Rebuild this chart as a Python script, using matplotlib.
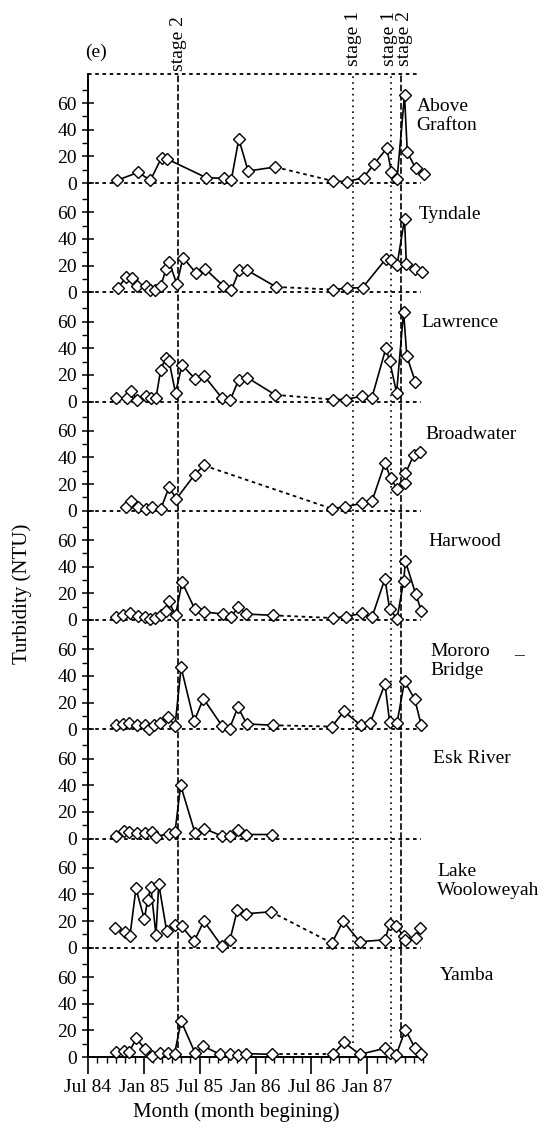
import matplotlib
matplotlib.use("Agg")
import matplotlib.pyplot as plt

plt.rcParams['font.family'] = ['Liberation Serif', 'DejaVu Serif']

# sampling month, counted in months after Jul 1984
grafton_m = [3.1, 5.4, 6.7, 7.9, 8.5, 12.7, 14.6, 15.4, 16.2, 17.2, 20.1,
             26.3, 27.8, 29.6, 30.7, 32.1, 32.6, 33.2, 34.0, 34.3, 35.2, 36.1]
grafton_v = [2, 8, 2, 19, 18, 4, 3.5, 2.5, 33, 9, 12,
             1.5, 1, 4, 14, 26, 8, 3, 66, 23, 11, 7]

tyndale_m = [3.2, 4.1, 4.75, 5.3, 6.2, 6.65, 7.2, 7.8, 8.4, 8.7, 9.55, 10.2, 11.6,
             12.6, 14.5, 15.4, 16.25, 17.1, 20.2,
             26.3, 27.8, 29.5, 32.0, 32.6, 33.2, 34.0, 34.2, 35.1, 35.9]
tyndale_v = [3, 11.5, 10.5, 5, 5, 1.5, 2, 4.5, 17.5, 23, 6, 26, 14.5,
             17.5, 5, 1.5, 16.5, 16.5, 4,
             2, 3, 3.5, 25, 24.5, 20.5, 55, 21, 17.5, 15.5]

lawrence_m = [3.0, 4.15, 4.6, 5.3, 6.2, 6.8, 7.3, 7.8, 8.35, 8.7, 9.4, 10.1, 11.5,
              12.5, 14.4, 15.3, 16.2, 17.1, 20.1,
              26.3, 27.7, 29.4, 30.5, 32.0, 32.4, 33.15, 33.9, 34.25, 35.15]
lawrence_v = [2.5, 2.5, 8, 1.5, 4.5, 2.5, 2.5, 23.5, 33, 30.5, 6.5, 27.5, 17,
              19, 2.5, 1.5, 16.5, 18, 5,
              1.5, 1.5, 4, 3, 40, 30.5, 6.5, 67.5, 34, 15]

broadwater_m = [4.1, 4.6, 5.35, 6.2, 6.9, 7.8, 8.7, 9.5, 11.45, 12.45,
                26.2, 27.6, 29.4, 30.5, 31.9, 32.5, 33.2, 34.0, 34.1, 35.0, 35.7]
broadwater_v = [3, 7, 3, 1, 2.5, 1, 17.5, 9, 27, 34,
                1.5, 3, 5.5, 7, 36, 24.5, 16.5, 21, 28, 42, 44]

harwood_m = [3.0, 3.8, 4.55, 5.35, 6.15, 6.7, 7.25, 7.85, 8.4, 8.65, 9.4, 10.1,
             11.45, 12.5, 14.5, 15.35, 16.15, 17.0, 19.85,
             26.3, 27.7, 29.4, 30.5, 31.9, 32.4, 33.2, 33.9, 34.1, 35.2, 35.8]
harwood_v = [2, 3.5, 5.5, 3, 2, 0.5, 1.5, 4, 6.5, 14.5, 3.5, 28.5,
             8.5, 6, 4.5, 2, 10, 4.5, 3.5,
             1.5, 2.5, 5, 2, 31, 8, 1, 29, 44, 19.5, 7]

mororo_m = [3.0, 3.75, 4.45, 5.25, 6.15, 6.6, 7.05, 7.75, 8.55, 9.35, 10.0, 11.4,
            12.4, 14.4, 15.2, 16.1, 17.05, 19.85,
            26.2, 27.5, 29.3, 30.3, 31.9, 32.4, 33.2, 34.0, 35.1, 35.8]
mororo_v = [3, 4, 5, 3, 3, 0.5, 3.5, 4.5, 9.5, 2.5, 46.5, 6,
            23, 2.5, 0.5, 16.5, 4, 3,
            2, 13.5, 3, 4.5, 34, 5.5, 5, 36, 22.5, 3]

esk_m = [3.0, 3.85, 4.45, 5.3, 6.15, 6.85, 7.3, 8.65, 9.35, 9.95, 11.5, 12.45,
         14.35, 15.25, 16.15, 17.0, 19.8]
esk_v = [2, 5.5, 5, 4, 4, 5, 1.5, 3.5, 5, 40, 4, 7.5, 2, 2, 6.5, 3, 3]

lake_m = [2.95, 3.95, 4.5, 5.15, 6.05, 6.4, 6.75, 7.3, 7.6, 8.45, 9.35, 10.05,
          11.4, 12.45, 14.35, 15.25, 16.05, 16.95, 19.65,
          26.2, 27.4, 29.2, 31.9, 32.4, 33.1, 33.9, 34.1, 35.2, 35.7]
lake_v = [14.5, 12, 8.5, 44.5, 21.5, 35.5, 45.5, 9.5, 48, 12.5, 17, 16,
          5, 20, 1.5, 6, 28.5, 25.5, 27,
          3.5, 20, 4.5, 6, 17.5, 16, 9, 5.5, 7, 15]

yamba_m = [3.0, 3.9, 4.4, 5.2, 6.1, 6.9, 7.7, 8.6, 9.3, 10.0, 11.5, 12.4,
           14.2, 15.2, 16.1, 17.0, 19.8,
           26.3, 27.5, 29.2, 31.9, 32.4, 33.1, 34.1, 35.1, 35.8]
yamba_v = [3.5, 4.5, 3.5, 14, 6, 1, 3, 3, 2.5, 27, 3, 8,
           2, 2, 1.5, 2.5, 2,
           2, 11, 2, 6.5, 3, 1.5, 20.5, 7, 2.5]

stations = ['Above\nGrafton', 'Tyndale', 'Lawrence', 'Broadwater', 'Harwood',
            'Mororo\nBridge', 'Esk River', 'Lake\nWooloweyah', 'Yamba']
months = [grafton_m, tyndale_m, lawrence_m, broadwater_m, harwood_m,
          mororo_m, esk_m, lake_m, yamba_m]
values = [grafton_v, tyndale_v, lawrence_v, broadwater_v, harwood_v,
          mororo_v, esk_v, lake_v, yamba_v]
# last sample before the unsampled stretch (joined by a dotted line)
gaps = [10, 18, 18, 9, 18, 17, None, 18, 16]

stage_pos = [9.7, 28.5, 32.6, 33.65]
stage_names = ['stage 2', 'stage 1', 'stage 1', 'stage 2']

tick_months = [0, 6, 12, 18, 24, 30]
tick_labels = ['Jul 84', 'Jan 85', 'Jul 85', 'Jan 86', 'Jul 86', 'Jan 87']

# label placement (x in months, y in NTU of the panel)
label_x = [35.3, 35.5, 35.8, 36.2, 36.6, 36.8, 37.1, 37.5, 37.8]
label_y = [50, 58.5, 59, 57.5, 59, 51, 60, 50, 61]

W, H = 544, 1131
fig = plt.figure(figsize=(W / 100, H / 100), dpi=100)
left, width = 88, 337
zero0, step = 183, 109.25

dotted = (0, (2, 2))
stage_style = {'stage 1': (0, (1, 2.5)), 'stage 2': (0, (4, 1.5))}
stage_bottom = [0.08, 0.13, 0.12, 0.17]

axes = []
for i in range(9):
    y0 = zero0 + step * i
    ax = fig.add_axes([left / W, 1 - y0 / H, width / W, step / H])
    axes.append(ax)
    ax.set_xlim(0, 36.2)
    ax.set_ylim(0, 82)
    ax.patch.set_visible(False)
    for s in ['top', 'right']:
        ax.spines[s].set_visible(False)
    ax.spines['left'].set_linewidth(1.4)
    last = i == 8
    ax.spines['bottom'].set_visible(last)
    ax.spines['bottom'].set_linewidth(1.4)

    ax.set_yticks([0, 20, 40, 60])
    ax.set_yticks([10, 30, 50, 70], minor=True)
    ax.tick_params(axis='y', which='major', direction='inout', length=8,
                   width=1.1, labelsize=14, pad=4)
    ax.tick_params(axis='y', which='minor', direction='out', length=4, width=1)

    if last:
        ax.set_xticks(tick_months)
        ax.set_xticklabels(tick_labels)
        ax.set_xticks(range(0, 37), minor=True)
        ax.tick_params(axis='x', which='major', direction='out', length=12,
                       width=1.2, labelsize=14, pad=4)
        ax.tick_params(axis='x', which='minor', direction='out', length=4, width=1)
    else:
        ax.tick_params(axis='x', which='both', bottom=False, labelbottom=False)
        ax.plot([0, 35.8], [0, 0], ls=dotted, color='k', lw=1.3, clip_on=False)

    # stage lines
    for k, (sx, sn) in enumerate(zip(stage_pos, stage_names)):
        ymin = stage_bottom[k] if last else 0
        ax.axvline(sx, ymin=ymin, ymax=1, ls=stage_style[sn], color='k',
                   lw=1.2, zorder=2)

    m, v, g = months[i], values[i], gaps[i]
    if g is None:
        ax.plot(m, v, '-', color='k', lw=1.2, zorder=3, clip_on=False)
    else:
        ax.plot(m[:g + 1], v[:g + 1], '-', color='k', lw=1.2, zorder=3, clip_on=False)
        ax.plot(m[g:g + 2], v[g:g + 2], ls=dotted, color='k', lw=1.3, zorder=3,
                clip_on=False)
        ax.plot(m[g + 1:], v[g + 1:], '-', color='k', lw=1.2, zorder=3, clip_on=False)
    ax.plot(m, v, 'D', ms=5.8, mfc='white', mec='k', mew=1, zorder=4, clip_on=False)

    ax.text(label_x[i], label_y[i], stations[i], ha='left', va='center',
            fontsize=14, linespacing=1.15)

# top border and stage labels
top = axes[0]
top.plot([0, 35.5], [82, 82], ls=dotted, color='k', lw=1.3, clip_on=False)
label_shift = [0, 0, -0.25, 0.4]
label_base = [84, 88, 88, 88]
for sx, sn, dx, yb in zip(stage_pos, stage_names, label_shift, label_base):
    top.text(sx + dx, yb, sn, rotation=90, ha='center', va='bottom', fontsize=14)

axes[5].text(46.3, 55, '\u2013', ha='center', va='center', fontsize=14)

fig.text(96 / W, 1 - 52 / H, '(e)', ha='center', va='center', fontsize=14)
fig.text(22 / W, 1 - 594 / H, 'Turbidity (NTU)', rotation=90, ha='center',
         va='center', fontsize=15)
fig.text(236 / W, 1 - 1112 / H, 'Month (month begining)', ha='center',
         va='center', fontsize=15)

fig.savefig('out.png', dpi=100)
